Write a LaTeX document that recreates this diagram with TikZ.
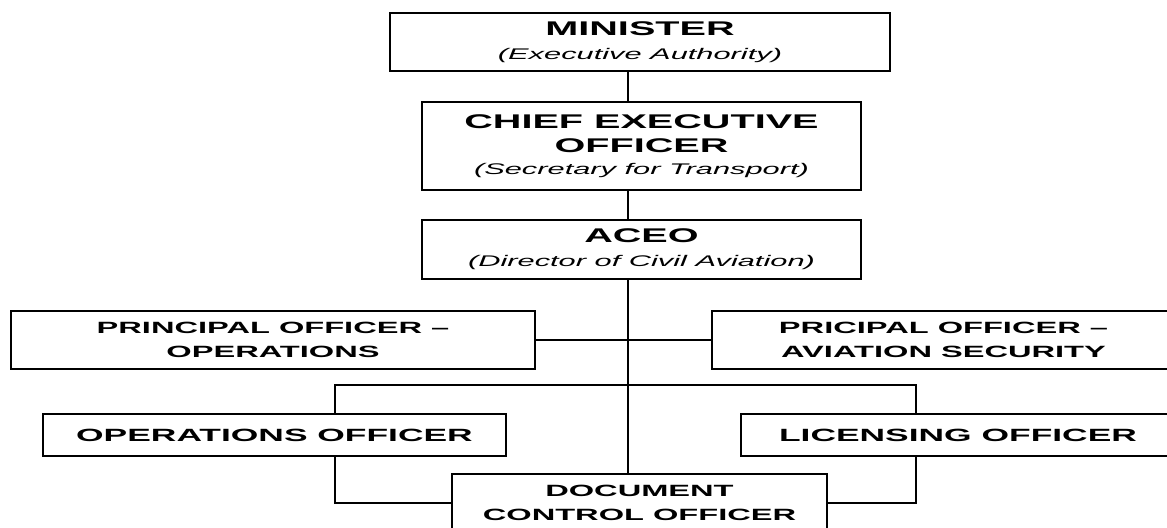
\documentclass[tikz,border=0pt]{standalone}
\usepackage{fontspec}
\newfontfamily\chartfont[FakeStretch=2]{Liberation Sans}
\usepackage{tikz}
\usetikzlibrary{positioning}

\newcommand{\headtxt}[1]{{\bfseries\fontsize{9.9}{11}\selectfont #1}}
\newcommand{\roletxt}[1]{{\itshape\fontsize{7.7}{10.5}\selectfont #1}}
\newcommand{\posttxt}[1]{{\bfseries\fontsize{8.15}{9.2}\selectfont #1}}

\begin{document}
\begin{tikzpicture}[x=0.5pt, y=-0.5pt, line width=0.9pt,
    every node/.style = {draw, rectangle, align=center, inner sep=0pt, font=\chartfont},
    officebox/.style = {minimum width=#1},
    ]
    \path[use as bounding box, clip] (0,0) rectangle (1167,528);
    \coordinate (spine) at (628,0);
    \coordinate (busL) at (335,385);
    \coordinate (busR) at (916,385);

    \node (minister) [officebox=250pt, minimum height=29pt] at (640,42)
        {\headtxt{MINISTER}\\\roletxt{(Executive Authority)}};
    \node (ceo) [officebox=219.5pt, minimum height=44pt] at (641.5,146)
        {\headtxt{CHIEF EXECUTIVE}\\\headtxt{OFFICER}\\[-1pt]\roletxt{(Secretary for Transport)}};
    \node (aceo) [officebox=219.5pt, minimum height=29.5pt] at (641.5,249.5)
        {\headtxt{ACEO}\\\roletxt{(Director of Civil Aviation)}};

    \node (popsops) [officebox=262pt, minimum height=29pt] at (273,340)
        {\posttxt{PRINCIPAL OFFICER –}\\\posttxt{OPERATIONS}};
    \node (popsavsec) [officebox=231.5pt, minimum height=29pt] at (943.5,340)
        {\posttxt{PRICIPAL OFFICER –}\\\posttxt{AVIATION SECURITY}};

    \node (opsofficer) [officebox=231.5pt, minimum height=21pt] at (274.5,435)
        {\headtxt{\fontsize{8.85}{10}\selectfont OPERATIONS OFFICER}};
    \node (licofficer) [officebox=217pt, minimum height=21pt] at (958,435)
        {\headtxt{\fontsize{8.85}{10}\selectfont LICENSING OFFICER}};

    \node (docofficer) [officebox=187.5pt, minimum height=29pt] at (639.5,503)
        {\posttxt{DOCUMENT}\\\posttxt{CONTROL OFFICER}};

    \draw (minister.south -| spine) -- (ceo.north -| spine);
    \draw (ceo.south -| spine) -- (aceo.north -| spine);
    \draw (aceo.south -| spine) -- (docofficer.north -| spine);
    \draw (popsops.east) -- (popsavsec.west);
    \draw (opsofficer.north -| busL) -- (busL) -- (busR) -- (licofficer.north -| busR);
    \draw (opsofficer.south -| busL) |- (docofficer.west);
    \draw (licofficer.south -| busR) |- (docofficer.east);
\end{tikzpicture}
\end{document}
